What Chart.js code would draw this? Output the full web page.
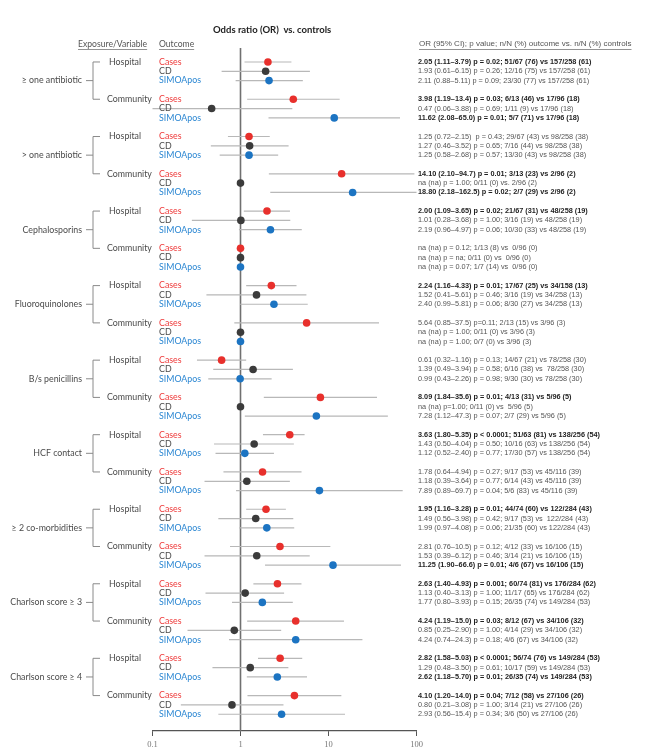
<!DOCTYPE html>
<html>
<head>
<meta charset="utf-8">
<script src="https://cdn.jsdelivr.net/npm/chart.js@4.4.1/dist/chart.umd.min.js"></script>
<style>
  html, body { margin: 0; padding: 0; background: #fff; }
  #wrap { position: relative; width: 658px; height: 756px; }
</style>
</head>
<body>
<div id="wrap"><canvas id="forest"></canvas></div>
<script>
// Forest plot: odds ratio vs. controls, log x axis

const exposures = ['≥ one antibiotic', '> one antibiotic', 'Cephalosporins', 'Fluoroquinolones',
    'B/s penicillins', 'HCF contact', '≥ 2 co-morbidities', 'Charlson score ≥ 3', 'Charlson score ≥ 4'];
const settings = ['Hospital', 'Community'];
const outcomes = ['Cases', 'CD', 'SIMOApos'];

// one entry per exposure x setting (Hospital, Community, Hospital, ...); na rows sit on 1
const casesOR   = [2.05, 3.98, 1.25, 14.10, 2.00, 1, 2.24, 5.64, 0.61, 8.09, 3.63, 1.78, 1.95, 2.81, 2.63, 4.24, 2.82, 4.10];
const casesLow  = [1.11, 1.19, 0.72, 2.10, 1.09, null, 1.16, 0.85, 0.32, 1.84, 1.80, 0.64, 1.16, 0.76, 1.40, 1.19, 1.58, 1.20];
const casesHigh = [3.79, 13.4, 2.15, 94.7, 3.65, null, 4.33, 37.5, 1.16, 35.6, 5.35, 4.94, 3.28, 10.5, 4.93, 15.0, 5.03, 14.0];

const cdOR   = [1.93, 0.47, 1.27, 1, 1.01, 1, 1.52, 1, 1.39, 1, 1.43, 1.18, 1.49, 1.53, 1.13, 0.85, 1.29, 0.80];
const cdLow  = [0.61, 0.06, 0.46, null, 0.28, null, 0.41, null, 0.49, null, 0.50, 0.39, 0.56, 0.39, 0.40, 0.25, 0.48, 0.21];
const cdHigh = [6.15, 3.88, 3.52, null, 3.68, null, 5.61, null, 3.94, null, 4.04, 3.64, 3.98, 6.12, 3.13, 2.90, 3.50, 3.08];

const simoaOR   = [2.11, 11.62, 1.25, 18.80, 2.19, 1, 2.40, 1, 0.99, 7.28, 1.12, 7.89, 1.99, 11.25, 1.77, 4.24, 2.62, 2.93];
const simoaLow  = [0.88, 2.08, 0.58, 2.18, 0.96, null, 0.99, null, 0.43, 1.12, 0.52, 0.89, 0.97, 1.90, 0.80, 0.74, 1.18, 0.56];
const simoaHigh = [5.11, 65.0, 2.68, 162.5, 4.97, null, 5.81, null, 2.26, 47.3, 2.40, 69.7, 4.08, 66.6, 3.93, 24.3, 5.70, 15.4];

const xTickValues = [0.1, 1, 10, 100];
const xTickLabels = ['0.1', '1', '10', '100'];

// right-hand column, one line per row, bold when significant
const statText = [
    '2.05 (1.11–3.79) p = 0.02; 51/67 (76) vs 157/258 (61)',
    '1.93 (0.61–6.15) p = 0.26; 12/16 (75) vs 157/258 (61)',
    '2.11 (0.88–5.11) p = 0.09; 23/30 (77) vs 157/258 (61)',
    '3.98 (1.19–13.4) p = 0.03; 6/13 (46) vs 17/96 (18)',
    '0.47 (0.06–3.88) p = 0.69; 1/11 (9) vs 17/96 (18)',
    '11.62 (2.08–65.0) p = 0.01; 5/7 (71) vs 17/96 (18)',
    '1.25 (0.72–2.15)  p = 0.43; 29/67 (43) vs 98/258 (38)',
    '1.27 (0.46–3.52) p = 0.65; 7/16 (44) vs 98/258 (38)',
    '1.25 (0.58–2.68) p = 0.57; 13/30 (43) vs 98/258 (38)',
    '14.10 (2.10–94.7) p = 0.01; 3/13 (23) vs 2/96 (2)',
    'na (na) p = 1.00; 0/11 (0) vs. 2/96 (2)',
    '18.80 (2.18–162.5) p = 0.02; 2/7 (29) vs 2/96 (2)',
    '2.00 (1.09–3.65) p = 0.02; 21/67 (31) vs 48/258 (19)',
    '1.01 (0.28–3.68) p = 1.00; 3/16 (19) vs 48/258 (19)',
    '2.19 (0.96–4.97) p = 0.06; 10/30 (33) vs 48/258 (19)',
    'na (na) p = 0.12; 1/13 (8) vs  0/96 (0)',
    'na (na) p = na; 0/11 (0) vs  0/96 (0)',
    'na (na) p = 0.07; 1/7 (14) vs  0/96 (0)',
    '2.24 (1.16–4.33) p = 0.01; 17/67 (25) vs 34/158 (13)',
    '1.52 (0.41–5.61) p = 0.46; 3/16 (19) vs 34/258 (13)',
    '2.40 (0.99–5.81) p = 0.06; 8/30 (27) vs 34/258 (13)',
    '5.64 (0.85–37.5) p=0.11; 2/13 (15) vs 3/96 (3)',
    'na (na) p = 1.00; 0/11 (0) vs 3/96 (3)',
    'na (na) p = 1.00; 0/7 (0) vs 3/96 (3)',
    '0.61 (0.32–1.16) p = 0.13; 14/67 (21) vs 78/258 (30)',
    '1.39 (0.49–3.94) p = 0.58; 6/16 (38) vs  78/258 (30)',
    '0.99 (0.43–2.26) p = 0.98; 9/30 (30) vs 78/258 (30)',
    '8.09 (1.84–35.6) p = 0.01; 4/13 (31) vs 5/96 (5)',
    'na (na) p=1.00; 0/11 (0) vs  5/96 (5)',
    '7.28 (1.12–47.3) p = 0.07; 2/7 (29) vs 5/96 (5)',
    '3.63 (1.80–5.35) p < 0.0001; 51/63 (81) vs 138/256 (54)',
    '1.43 (0.50–4.04) p = 0.50; 10/16 (63) vs 138/256 (54)',
    '1.12 (0.52–2.40) p = 0.77; 17/30 (57) vs 138/256 (54)',
    '1.78 (0.64–4.94) p = 0.27; 9/17 (53) vs 45/116 (39)',
    '1.18 (0.39–3.64) p = 0.77; 6/14 (43) vs 45/116 (39)',
    '7.89 (0.89–69.7) p = 0.04; 5/6 (83) vs 45/116 (39)',
    '1.95 (1.16–3.28) p = 0.01; 44/74 (60) vs 122/284 (43)',
    '1.49 (0.56–3.98) p = 0.42; 9/17 (53) vs  122/284 (43)',
    '1.99 (0.97–4.08) p = 0.06; 21/35 (60) vs 122/284 (43)',
    '2.81 (0.76–10.5) p = 0.12; 4/12 (33) vs 16/106 (15)',
    '1.53 (0.39–6.12) p = 0.46; 3/14 (21) vs 16/106 (15)',
    '11.25 (1.90–66.6) p = 0.01; 4/6 (67) vs 16/106 (15)',
    '2.63 (1.40–4.93) p = 0.001; 60/74 (81) vs 176/284 (62)',
    '1.13 (0.40–3.13) p = 1.00; 11/17 (65) vs 176/284 (62)',
    '1.77 (0.80–3.93) p = 0.15; 26/35 (74) vs 149/284 (53)',
    '4.24 (1.19–15.0) p = 0.03; 8/12 (67) vs 34/106 (32)',
    '0.85 (0.25–2.90) p = 1.00; 4/14 (29) vs 34/106 (32)',
    '4.24 (0.74–24.3) p = 0.18; 4/6 (67) vs 34/106 (32)',
    '2.82 (1.58–5.03) p < 0.0001; 56/74 (76) vs 149/284 (53)',
    '1.29 (0.48–3.50) p = 0.61; 10/17 (59) vs 149/284 (53)',
    '2.62 (1.18–5.70) p = 0.01; 26/35 (74) vs 149/284 (53)',
    '4.10 (1.20–14.0) p = 0.04; 7/12 (58) vs 27/106 (26)',
    '0.80 (0.21–3.08) p = 1.00; 3/14 (21) vs 27/106 (26)',
    '2.93 (0.56–15.4) p = 0.34; 3/6 (50) vs 27/106 (26)'
];
const statBold = [1,0,0, 1,0,1, 0,0,0, 1,0,1, 1,0,0, 0,0,0, 1,0,0, 0,0,0, 0,0,0, 1,0,0,
    1,0,0, 0,0,0, 1,0,0, 0,0,1, 1,0,0, 1,0,0, 1,0,1, 1,0,0];

const pointColors = ['#e8302c', '#3b3b3b', '#1c74c2'];
const labelColors = ['#ee3a3a', '#4a4a4a', '#2a86d2'];

// each setting block is 3 rows + 1 blank row
function rowOf(group, k) {
    return group * 4 + k;
}

function buildPoints(values, k) {
    return values.map((v, g) => ({ x: v, y: rowOf(g, k) }));
}

function buildWhiskers(lo, hi, k) {
    const pts = [];
    lo.forEach((l, g) => {
        if (l == null) return;
        pts.push({ x: l, y: rowOf(g, k) }, { x: hi[g], y: rowOf(g, k) }, { x: NaN, y: NaN });
    });
    return pts;
}

const lowSets = [casesLow, cdLow, simoaLow];
const highSets = [casesHigh, cdHigh, simoaHigh];
const orSets = [casesOR, cdOR, simoaOR];

const datasets = [];
orSets.forEach((vals, k) => {
    datasets.push({
        label: outcomes[k],
        data: buildPoints(vals, k),
        pointRadius: 3.8,
        pointBackgroundColor: pointColors[k],
        pointBorderWidth: 0,
        showLine: false,
        order: 0
    });
});
orSets.forEach((vals, k) => {
    datasets.push({
        label: outcomes[k] + ' CI',
        data: buildWhiskers(lowSets[k], highSets[k], k),
        showLine: true,
        spanGaps: false,
        pointRadius: 0,
        borderColor: '#b8b8b8',
        borderWidth: 1.2,
        order: 1
    });
});

const SANS = 'Lato, "Open Sans", sans-serif';
const ARIAL = '"Liberation Sans", Arial, sans-serif';

function underlined(ctx, text, x, y) {
    ctx.fillText(text, x, y);
    const w = ctx.measureText(text).width;
    ctx.beginPath();
    ctx.moveTo(x, y + 5.5);
    ctx.lineTo(x + w, y + 5.5);
    ctx.stroke();
}

const labelsPlugin = {
    id: 'forestLabels',
    beforeDatasetsDraw(chart) {
        // reference line at OR = 1
        const { ctx, chartArea, scales } = chart;
        const x1 = scales.x.getPixelForValue(1);
        ctx.save();
        ctx.strokeStyle = '#707070';
        ctx.lineWidth = 1.6;
        ctx.beginPath();
        ctx.moveTo(x1, chartArea.top);
        ctx.lineTo(x1, chartArea.bottom);
        ctx.stroke();
        ctx.restore();
    },
    afterDraw(chart) {
        const { ctx, scales } = chart;
        const y = scales.y;
        ctx.save();
        ctx.textBaseline = 'middle';

        // title + column headers
        ctx.fillStyle = '#222';
        ctx.font = 'bold 9.5px ' + SANS;
        ctx.textAlign = 'left';
        ctx.fillText('Odds ratio (OR)  vs. controls', 213, 30);

        ctx.fillStyle = '#555';
        ctx.strokeStyle = '#777';
        ctx.lineWidth = 0.8;
        ctx.font = '8.6px ' + SANS;
        underlined(ctx, 'Exposure/Variable', 78, 44);
        underlined(ctx, 'Outcome', 159, 44);
        ctx.font = '8px ' + ARIAL;
        underlined(ctx, 'OR (95% CI); p value; n/N (%) outcome vs. n/N (%) controls', 419, 44);

        // exposure brackets
        exposures.forEach((name, e) => {
            const yH = y.getPixelForValue(rowOf(e * 2, 0));
            const yC = y.getPixelForValue(rowOf(e * 2 + 1, 0));
            const yM = (yH + yC) / 2;
            ctx.strokeStyle = '#8a8a8a';
            ctx.lineWidth = 1;
            ctx.beginPath();
            ctx.moveTo(86, yM); ctx.lineTo(93, yM);
            ctx.moveTo(100, yH); ctx.lineTo(93, yH); ctx.lineTo(93, yC); ctx.lineTo(100, yC);
            ctx.stroke();

            ctx.fillStyle = '#4a4a4a';
            ctx.font = '8.8px ' + SANS;
            ctx.textAlign = 'right';
            ctx.fillText(name, 82, yM);
            ctx.textAlign = 'left';
            ctx.fillText(settings[0], 109, yH);
            ctx.fillText(settings[1], 107, yC);
        });

        // outcome labels + stats column
        for (let g = 0; g < casesOR.length; g++) {
            for (let k = 0; k < 3; k++) {
                const r = rowOf(g, k);
                const py = y.getPixelForValue(r);
                const i = g * 3 + k;
                ctx.textAlign = 'left';
                ctx.fillStyle = labelColors[k];
                ctx.font = '8.8px ' + SANS;
                ctx.fillText(outcomes[k], 159, py);

                ctx.fillStyle = statBold[i] ? '#1e1e1e' : '#555';
                ctx.font = (statBold[i] ? 'bold ' : '') + '7.3px ' + ARIAL;
                ctx.fillText(statText[i], 418, py);
            }
        }
        ctx.restore();
    }
};

new Chart(document.getElementById('forest'), {
    type: 'scatter',
    data: { datasets: datasets },
    options: {
        responsive: true,
        maintainAspectRatio: false,
        animation: false,
        layout: {
            padding: { left: 152.5, right: 241.5, top: 48, bottom: 0 }
        },
        plugins: {
            legend: { display: false },
            tooltip: { enabled: false }
        },
        scales: {
            x: {
                type: 'logarithmic',
                min: 0.1,
                max: 100,
                afterBuildTicks: function(scale) {
                    scale.ticks = xTickValues.map(v => ({ value: v }));
                },
                afterFit: function(scale) {
                    scale.height = 25;
                },
                ticks: {
                    color: '#777',
                    font: { family: '"Liberation Serif", "DejaVu Serif", serif', size: 8.5 },
                    padding: 4,
                    maxRotation: 0,
                    autoSkip: false,
                    callback: function(value) {
                        const i = xTickValues.indexOf(value);
                        return i >= 0 ? xTickLabels[i] : '';
                    }
                },
                grid: {
                    drawOnChartArea: false,
                    color: '#555',
                    tickLength: 5
                },
                border: { color: '#555', width: 1.2 }
            },
            y: {
                type: 'linear',
                display: false,
                reverse: true,
                min: -1.5,
                max: 71.8
            }
        }
    },
    plugins: [labelsPlugin]
});
</script>
</body>
</html>
